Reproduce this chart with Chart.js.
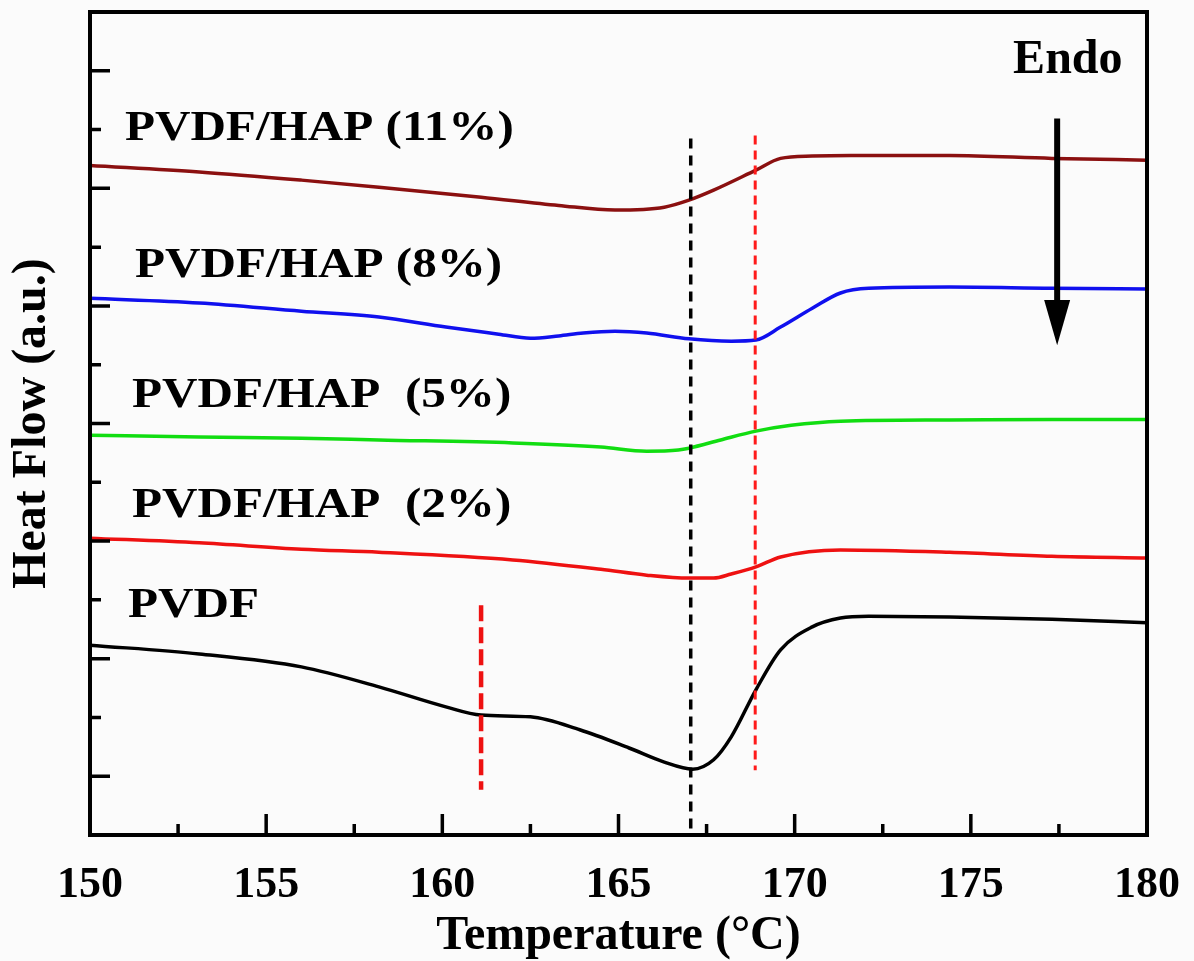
<!DOCTYPE html>
<html>
<head>
<meta charset="utf-8">
<script src="https://cdn.jsdelivr.net/npm/chart.js@4.4.1/dist/chart.umd.min.js"></script>
<style>
  html, body { margin: 0; padding: 0; background: #fbfbfb; }
  #wrap { width: 1194px; height: 961px; }
</style>
</head>
<body>
<div id="wrap"><canvas id="dsc" width="1194" height="961"></canvas></div>
<script>
// DSC heating curves, heat flow in arbitrary units
const tPVDF = [150, 153.1, 156, 158.2, 160.1, 161.1, 162.5, 163.9, 165.3, 166.3, 167.1, 167.7, 168.2, 168.9, 169.6, 170.5, 171.3, 172.1, 174.4, 177.3, 180]
const hfPVDF = [3.23, 3.08, 2.86, 2.52, 2.18, 2.04, 2.01, 1.79, 1.48, 1.24, 1.12, 1.28, 1.67, 2.47, 3.15, 3.54, 3.69, 3.72, 3.71, 3.67, 3.61]

const t2 = [150, 153.1, 156, 158.2, 162.0, 164.5, 165.8, 167.0, 167.7, 168.2, 168.9, 169.6, 171.3, 174.4, 177.3, 180]
const hf2 = [5.05, 4.97, 4.86, 4.81, 4.68, 4.52, 4.42, 4.37, 4.37, 4.44, 4.56, 4.73, 4.85, 4.81, 4.74, 4.71]

const t5 = [150, 153.1, 156, 158.2, 162.0, 164.5, 165.8, 166.7, 167.0, 167.9, 168.9, 169.9, 171.3, 174.4, 177.3, 180]
const hf5 = [6.80, 6.77, 6.75, 6.72, 6.67, 6.60, 6.53, 6.55, 6.58, 6.72, 6.87, 6.97, 7.04, 7.06, 7.07, 7.07]

const t8 = [150, 153.1, 156, 158.2, 160.1, 161.6, 162.5, 163.3, 164.0, 164.9, 165.8, 167.0, 168.2, 168.9, 169.6, 170.5, 171.3, 172.1, 174.4, 177.3, 180]
const hf8 = [9.13, 9.05, 8.91, 8.81, 8.64, 8.52, 8.45, 8.49, 8.54, 8.57, 8.54, 8.44, 8.40, 8.42, 8.64, 8.96, 9.22, 9.30, 9.32, 9.30, 9.29]

const t11 = [150, 153.1, 156, 158.2, 161.1, 163.3, 164.9, 166.3, 167.0, 167.7, 168.9, 169.6, 170.5, 171.6, 174.4, 177.3, 180]
const hf11 = [11.39, 11.28, 11.14, 11.02, 10.85, 10.71, 10.63, 10.68, 10.80, 10.97, 11.31, 11.51, 11.55, 11.56, 11.56, 11.51, 11.48]

// vertical guide lines
const peakT = [167.05, 167.05]
const peakHF = [11.85, 0]
const endT = [168.88, 168.88]
const endHF = [11.9, 1.1]
const shoulderT = [161.1, 161.1]
const shoulderHF = [3.91, 0.77]

// curve captions and the endo arrow
const captions = ['PVDF/HAP (11%)', 'PVDF/HAP (8%)', 'PVDF/HAP  (5%)', 'PVDF/HAP  (2%)', 'PVDF']
const captionT = [150.99, 151.28, 151.19, 151.19, 151.08]
const captionHF = [11.82, 9.49, 7.28, 5.41, 3.71]
const endoT = 176.2
const endoHF = 12.96
const arrowT = 177.45
const arrowHF = [12.19, 9.1, 8.33]

const serif = '"Liberation Serif", "Times New Roman", serif'

const pts = (xs, ys) => xs.map((x, i) => ({ x: x, y: ys[i] }))

const curve = (xs, ys, color) => ({
  data: pts(xs, ys),
  borderColor: color,
  borderWidth: 3.5,
  pointRadius: 0,
  cubicInterpolationMode: 'monotone',
  showLine: true,
})

const guide = (xs, ys, color, width, dash) => ({
  data: pts(xs, ys),
  borderColor: color,
  borderWidth: width,
  borderDash: dash,
  pointRadius: 0,
  showLine: true,
})

const frame = {
  id: 'frame',
  afterDatasetsDraw(chart) {
    const { ctx, chartArea: a, scales: { x, y } } = chart
    ctx.save()
    ctx.strokeStyle = '#000'
    ctx.lineWidth = 3.5
    ctx.lineCap = 'butt'
    ctx.beginPath()
    // inward ticks on the x axis, major every 5, minor between
    x.ticks.forEach((t, i) => {
      const px = x.getPixelForValue(t.value)
      if (i > 0 && i < x.ticks.length - 1) {
        ctx.moveTo(px, a.bottom)
        ctx.lineTo(px, a.bottom - 21)
      }
      if (i < x.ticks.length - 1) {
        const mx = x.getPixelForValue(t.value + 2.5)
        ctx.moveTo(mx, a.bottom)
        ctx.lineTo(mx, a.bottom - 11)
      }
    })
    // inward ticks on the y axis
    y.ticks.forEach((t, i) => {
      if (i === 0 || i === y.ticks.length - 1) return
      const py = y.getPixelForValue(t.value)
      ctx.moveTo(a.left, py)
      ctx.lineTo(a.left + (t.value % 2 === 1 ? 20 : 11), py)
    })
    ctx.stroke()

    ctx.lineWidth = 4
    ctx.strokeRect(a.left, a.top, a.right - a.left, a.bottom - a.top)

    // captions
    ctx.fillStyle = '#000'
    ctx.textBaseline = 'alphabetic'
    ctx.font = 'bold 42px ' + serif
    captions.forEach((c, i) => {
      ctx.save()
      ctx.translate(x.getPixelForValue(captionT[i]), y.getPixelForValue(captionHF[i]))
      ctx.scale(1.17, 1)
      ctx.fillText(c, 0, 0)
      ctx.restore()
    })
    ctx.font = 'bold 48px ' + serif
    ctx.fillText('Endo', x.getPixelForValue(endoT), y.getPixelForValue(endoHF))

    // endo arrow
    const ax = x.getPixelForValue(arrowT)
    ctx.lineWidth = 6
    ctx.beginPath()
    ctx.moveTo(ax, y.getPixelForValue(arrowHF[0]))
    ctx.lineTo(ax, y.getPixelForValue(arrowHF[1]) + 10)
    ctx.stroke()
    ctx.beginPath()
    ctx.moveTo(ax - 13, y.getPixelForValue(arrowHF[1]))
    ctx.lineTo(ax + 13, y.getPixelForValue(arrowHF[1]))
    ctx.lineTo(ax, y.getPixelForValue(arrowHF[2]))
    ctx.closePath()
    ctx.fill()
    ctx.restore()
  }
}

new Chart(document.getElementById('dsc'), {
  type: 'scatter',
  data: {
    datasets: [
      guide(peakT, peakHF, '#000000', 3.5, [10, 7]),
      guide(endT, endHF, '#ff1a1a', 3, [9, 6]),
      guide(shoulderT, shoulderHF, '#ee1111', 4.5, [16, 6]),
      curve(t11, hf11, '#8b1010'),
      curve(t8, hf8, '#1010ee'),
      curve(t5, hf5, '#11dd11'),
      curve(t2, hf2, '#ee1111'),
      curve(tPVDF, hfPVDF, '#000000'),
    ],
  },
  plugins: [frame],
  options: {
    responsive: false,
    animation: false,
    layout: { padding: { top: 12, right: 47, left: 0, bottom: 0 } },
    plugins: {
      legend: { display: false },
      tooltip: { enabled: false },
    },
    scales: {
      x: {
        type: 'linear',
        min: 150,
        max: 180,
        grid: { display: false, drawTicks: false },
        border: { display: false },
        ticks: {
          stepSize: 5,
          padding: 24,
          color: '#000',
          font: { family: serif, size: 44, weight: 'bold' },
        },
        title: {
          display: true,
          text: 'Temperature (°C)',
          color: '#000',
          padding: { top: 0, bottom: -4 },
          font: { family: serif, size: 48, weight: 'bold' },
        },
        afterFit(scale) {
          scale.height = 126
          // let the end labels hang outside the frame
          scale.paddingLeft = 0
          scale.paddingRight = 0
        },
      },
      y: {
        type: 'linear',
        min: 0,
        max: 14,
        grid: { display: false, drawTicks: false },
        border: { display: false },
        ticks: { stepSize: 1, display: false },
        title: {
          display: true,
          text: 'Heat Flow (a.u.)',
          color: '#000',
          padding: { top: 4, bottom: 0 },
          font: { family: serif, size: 48, weight: 'bold' },
        },
        afterFit(scale) { scale.width = 90 },
      },
    },
  },
})
</script>
</body>
</html>
